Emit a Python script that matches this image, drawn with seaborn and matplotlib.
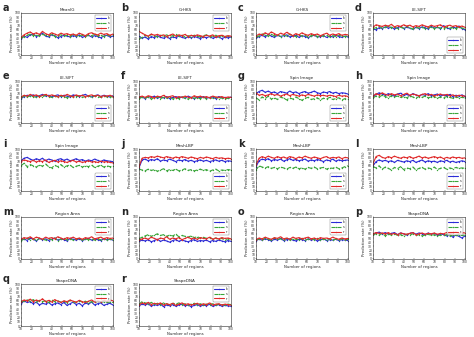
import matplotlib
matplotlib.use("Agg")
import matplotlib.pyplot as plt
import seaborn as sns
import numpy as np

sns.set_style("ticks")
plt.rcParams['font.family'] = ['DejaVu Sans']

X = list(range(10, 101, 3))
letters = list("abcdefghijklmnopqr")
titles = ["MeanIG", "GrHKS", "GrHKS", "LE-SIFT", "LE-SIFT", "LE-SIFT",
          "Spin Image", "Spin Image", "Spin Image", "MeshLBP", "MeshLBP", "MeshLBP",
          "Region Area", "Region Area", "Region Area", "ShapeDNA", "ShapeDNA", "ShapeDNA"]
series_labels = ["k", "s", "r"]
legend_locs = ["upper right"] * 3 + ["lower right"] * 9 + ["upper right"] * 6
x_ticks = [10, 20, 30, 40, 50, 60, 70, 80, 90, 100]
y_ticks = [0, 10, 20, 30, 40, 50, 60, 70, 80, 90, 100]

a_blue = [38,45,42,48,50,44,47,52,45,43,48,46,41,44,47,45,43,46,44,48,42,45,47,43,46,44,41,45,47,43,45]
a_red = [42,48,52,55,50,53,49,56,51,48,53,50,47,52,49,51,48,50,47,52,49,46,51,53,50,48,52,49,51,47,50]
a_green = [40,44,47,50,46,48,45,49,47,45,50,44,46,48,45,47,44,49,46,45,48,44,47,46,49,45,47,44,48,46,47]
b_blue = [45,40,43,38,44,41,46,42,40,44,39,43,41,45,42,40,43,41,44,42,39,43,41,44,40,42,43,39,42,41,43]
b_red = [56,52,48,45,50,47,49,46,48,44,47,50,45,48,46,49,44,47,45,48,46,44,47,45,48,43,46,47,44,46,45]
b_green = [38,42,47,44,49,46,43,47,45,48,44,46,49,45,47,43,46,44,47,45,43,46,48,44,45,47,43,46,44,45,44]
c_blue = [40,44,47,43,49,45,42,47,44,46,48,43,45,47,42,46,44,41,45,47,43,44,46,42,45,43,47,44,42,45,43]
c_red = [45,50,48,53,49,55,51,47,52,49,54,50,46,51,48,53,49,47,51,48,50,46,49,52,47,50,48,51,47,49,48]
c_green = [42,46,50,47,45,49,46,48,44,47,45,49,46,44,48,45,47,43,46,48,44,46,45,47,43,46,44,47,45,44,46]
d_blue = [62,60,65,63,67,64,66,62,65,68,63,66,64,61,66,63,67,65,62,68,64,66,63,70,65,62,67,64,69,63,60]
d_red = [66,72,70,68,71,69,73,67,70,68,72,69,71,67,70,68,72,69,67,71,68,70,72,67,69,71,68,70,67,69,66]
d_green = [63,65,68,64,66,69,65,67,63,66,64,68,65,62,67,64,66,63,65,67,63,66,64,62,66,64,65,63,66,64,63]
e_blue = [58,63,66,64,67,63,65,68,64,66,62,65,67,63,66,64,62,67,65,63,66,68,64,62,65,67,63,66,64,62,65]
e_red = [62,66,64,68,65,67,63,66,68,64,67,65,63,66,64,68,65,63,67,64,66,63,65,67,64,66,63,65,64,66,63]
e_green = [60,64,62,65,63,61,64,62,66,63,61,64,62,65,63,60,64,62,63,65,61,63,64,62,65,63,61,64,62,63,62]
f_blue = [60,62,58,63,61,64,59,62,60,63,58,61,63,60,62,59,64,61,58,62,60,63,59,61,62,58,63,60,61,59,62]
f_red = [62,64,61,65,63,60,64,62,66,61,63,65,60,63,61,64,62,60,65,62,64,61,63,60,64,62,61,63,60,62,61]
f_green = [58,61,59,62,57,60,62,58,61,59,63,57,60,58,62,59,57,61,59,60,58,62,57,60,59,61,58,60,57,59,58]
g_blue = [70,75,78,73,76,72,74,70,75,73,71,76,72,74,70,73,75,71,73,76,72,70,74,72,75,71,73,70,72,71,69]
g_red = [72,66,68,65,67,70,66,68,64,67,69,65,68,66,64,67,65,68,66,64,67,65,66,64,66,65,63,66,64,65,63]
g_green = [60,55,62,58,64,57,60,56,62,59,55,60,57,62,58,54,59,61,56,58,60,55,59,57,61,56,58,60,55,58,57]
h_blue = [62,68,72,69,66,70,67,64,69,71,66,68,65,70,67,64,68,66,70,65,67,69,64,67,65,68,63,66,64,67,63]
h_red = [64,70,67,72,68,66,70,67,69,65,68,71,66,69,67,65,68,70,66,68,65,67,69,66,68,65,67,64,66,65,64]
h_green = [60,64,62,66,63,60,65,62,64,61,63,60,64,62,59,63,61,64,60,62,63,59,62,60,63,61,59,62,60,61,60]
i_blue = [72,78,80,76,73,77,74,78,72,76,74,71,75,77,73,76,72,74,77,73,75,71,74,72,76,73,70,74,72,71,70]
i_red = [70,74,72,70,73,69,72,70,74,68,71,73,69,72,70,68,71,73,69,71,68,70,72,69,70,68,71,69,70,68,67]
i_green = [60,66,58,63,60,57,62,59,64,58,55,61,58,63,57,60,62,56,59,61,57,60,58,62,56,59,61,57,60,58,59]
j_blue = [55,74,76,72,75,73,77,71,74,72,76,73,70,74,72,75,71,73,70,72,74,71,73,70,72,74,71,73,70,72,71]
j_red = [58,78,80,79,82,80,83,81,79,82,80,78,81,79,82,80,78,81,79,77,80,78,81,79,77,80,78,79,77,78,77]
j_green = [52,50,48,52,49,51,47,50,53,48,51,49,52,48,50,53,49,51,48,50,52,49,51,47,50,52,48,50,49,51,50]
k_blue = [58,72,76,74,77,72,75,73,76,71,74,77,73,75,72,74,76,71,74,72,75,73,70,74,72,76,71,74,72,73,74]
k_red = [62,78,82,79,83,80,78,82,79,81,78,82,80,77,81,79,83,80,78,81,79,77,80,82,78,80,79,81,77,80,79]
k_green = [50,60,57,55,58,54,56,53,57,55,52,56,54,57,53,55,52,56,54,57,53,55,56,52,55,54,57,53,55,58,60]
l_blue = [60,70,74,71,73,70,72,68,73,71,69,72,70,73,68,71,74,69,72,70,71,68,72,70,73,69,71,68,70,72,70]
l_red = [65,82,85,80,78,82,79,83,80,78,81,79,82,78,80,83,79,81,78,80,82,79,81,77,80,78,81,79,80,78,79]
l_green = [58,55,60,52,57,54,50,56,53,58,51,55,53,57,50,54,56,52,55,53,57,51,54,56,52,55,53,56,54,55,54]
m_blue = [45,48,44,50,47,43,49,46,48,44,47,50,45,48,46,43,49,47,45,48,44,47,49,45,48,46,44,48,46,47,45]
m_red = [47,51,49,53,48,52,50,47,52,49,51,48,53,50,47,51,49,52,48,50,47,51,49,53,48,50,52,48,51,49,50]
m_green = [44,47,50,46,48,45,49,47,45,48,46,50,44,47,49,46,48,45,47,49,45,48,46,47,45,48,46,49,45,47,46]
n_blue = [42,45,43,46,41,44,47,42,45,43,40,44,46,42,45,43,41,44,46,42,44,43,45,41,44,42,45,43,41,44,42]
n_red = [45,48,50,47,52,49,46,50,48,53,47,50,48,51,46,49,52,48,50,47,51,49,48,52,47,50,48,51,49,50,48]
n_green = [48,52,55,58,54,57,60,56,58,54,57,55,59,53,56,54,52,55,51,53,50,52,49,51,48,50,47,49,46,48,47]
o_blue = [44,47,45,48,46,43,47,45,49,44,46,48,45,43,47,46,44,48,45,47,43,46,48,44,46,45,47,44,46,45,44]
o_red = [46,50,48,52,49,47,51,49,53,48,50,47,52,49,51,48,50,52,48,50,47,51,49,50,48,52,49,47,50,48,49]
o_green = [45,48,46,49,47,45,50,47,48,46,49,45,48,47,46,49,45,47,48,46,49,45,47,46,48,45,47,46,48,46,47]
p_blue = [58,62,64,60,63,59,61,63,58,62,60,57,61,63,59,62,60,58,62,59,61,57,60,58,55,59,52,57,54,50,55]
p_red = [60,63,61,62,60,63,59,61,58,62,60,59,61,63,58,60,62,59,61,60,62,59,61,60,63,60,62,64,61,63,62]
p_green = [58,60,57,61,55,59,57,60,56,58,55,59,57,60,56,58,55,57,59,56,58,55,57,56,58,55,57,56,58,56,57]
q_blue = [52,60,56,58,53,57,50,54,52,56,50,53,55,51,56,49,53,57,51,54,48,55,52,57,50,53,55,49,52,54,50]
q_red = [58,62,60,64,58,62,59,65,58,61,57,63,59,56,60,58,62,59,57,61,58,56,59,62,57,60,58,61,59,62,60]
q_green = [56,60,62,59,63,57,61,58,60,56,62,58,60,57,59,55,61,58,56,60,57,59,55,58,56,59,57,58,56,57,56]
r_blue = [48,52,50,53,47,51,49,52,46,50,48,51,47,50,52,48,50,46,49,51,47,50,48,52,47,49,51,47,49,48,47]
r_red = [50,55,53,56,51,54,52,55,50,53,51,54,49,52,55,51,53,50,52,54,50,53,51,55,50,52,53,50,52,51,50]
r_green = [52,58,55,53,56,52,54,51,55,53,50,54,52,55,51,53,50,52,54,51,53,50,52,51,53,50,52,51,50,52,51]

panels = [
    (a_blue, a_green, a_red), (b_blue, b_green, b_red), (c_blue, c_green, c_red),
    (d_blue, d_green, d_red), (e_blue, e_green, e_red), (f_blue, f_green, f_red),
    (g_blue, g_green, g_red), (h_blue, h_green, h_red), (i_blue, i_green, i_red),
    (j_blue, j_green, j_red), (k_blue, k_green, k_red), (l_blue, l_green, l_red),
    (m_blue, m_green, m_red), (n_blue, n_green, n_red), (o_blue, o_green, o_red),
    (p_blue, p_green, p_red), (q_blue, q_green, q_red), (r_blue, r_green, r_red),
]

W, H = 474, 337
fig = plt.figure(figsize=(W / 100, H / 100), dpi=100)
fig.patch.set_facecolor("white")

col_left = [21, 139, 256, 373]
row_top = [13, 81, 149, 217, 284]
pw, ph = 92, 42

colors = ["#2b2bd6", "#3aa63a", "#e02a2a"]
styles = ["-", "--", "-"]

for idx, (letter, title, series) in enumerate(zip(letters, titles, panels)):
    r, c = divmod(idx, 4)
    left = col_left[c] / W
    bottom = 1 - (row_top[r] + ph) / H
    ax = fig.add_axes([left, bottom, pw / W, ph / H])
    for vals, col, ls, lab in zip(series, colors, styles, series_labels):
        sns.lineplot(x=X, y=vals, ax=ax, color=col, linestyle=ls, linewidth=0.8,
                     marker=".", markersize=2.0, markeredgewidth=0, label=lab)
    ax.set_xlim(10, 100)
    ax.set_ylim(0, 100)
    ax.set_xticks(x_ticks)
    ax.set_yticks(y_ticks)
    ax.tick_params(labelsize=2.2, length=1, width=0.3, pad=0.6, direction="in")
    for s in ax.spines.values():
        s.set_linewidth(0.4)
        s.set_visible(True)
    ax.set_title(title, fontsize=3, pad=1.5)
    ax.set_xlabel("Number of regions", fontsize=2.8, labelpad=0.5)
    ax.set_ylabel("Prediction rate (%)", fontsize=2.8, labelpad=0.5)
    leg = ax.legend(loc=legend_locs[idx], fontsize=2.4, frameon=True, handlelength=3.0,
                    borderpad=0.4, labelspacing=0.25, handletextpad=0.5)
    leg.get_frame().set_linewidth(0.3)
    leg.get_frame().set_edgecolor("#555555")
    fig.text(left - 18 / W, 1 - (row_top[r] - 5) / H, letter, fontsize=7,
             fontweight="bold", ha="left", va="center")

fig.savefig("out.png", dpi=100, facecolor="white")
